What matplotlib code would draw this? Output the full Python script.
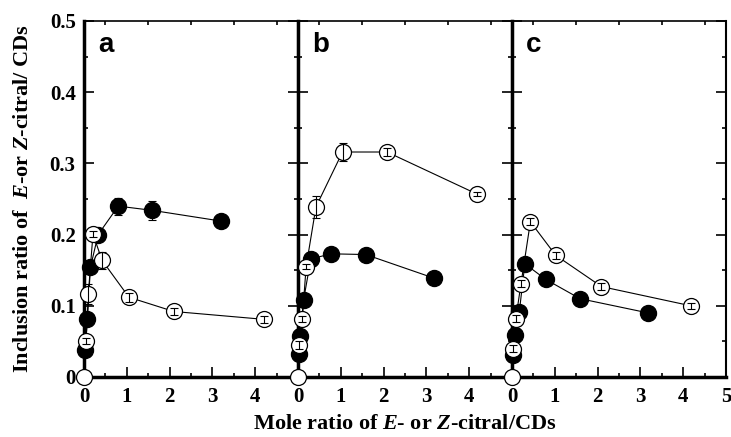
import matplotlib
matplotlib.use("Agg")
import matplotlib.pyplot as plt
from matplotlib.ticker import MultipleLocator

plt.rcParams['mathtext.fontset'] = 'custom'
plt.rcParams['mathtext.rm'] = 'Liberation Serif:bold'
plt.rcParams['mathtext.it'] = 'Liberation Serif:bold:italic'
plt.rcParams['mathtext.bf'] = 'Liberation Serif:bold'

# ---- data ----
panel_labels = ['a', 'b', 'c']

a_open_x = [0, 0.05, 0.1, 0.21, 0.42, 1.05, 2.1, 4.2]
a_open_y = [0, 0.051, 0.116, 0.201, 0.164, 0.112, 0.092, 0.081]
a_open_e = [0, 0.004, 0.014, 0.004, 0.012, 0.006, 0.005, 0.005]
a_fill_x = [0.025, 0.08, 0.15, 0.33, 0.8, 1.6, 3.2]
a_fill_y = [0.038, 0.081, 0.154, 0.200, 0.240, 0.234, 0.219]
a_fill_e = [0.003, 0.004, 0.004, 0.004, 0.012, 0.013, 0.003]

b_open_x = [0, 0.03, 0.1, 0.19, 0.42, 1.04, 2.08, 4.18]
b_open_y = [0, 0.045, 0.081, 0.155, 0.239, 0.316, 0.316, 0.257]
b_open_e = [0, 0.005, 0.004, 0.004, 0.015, 0.012, 0.005, 0.003]
b_fill_x = [0.02, 0.05, 0.13, 0.3, 0.78, 1.58, 3.17]
b_fill_y = [0.033, 0.057, 0.108, 0.166, 0.173, 0.172, 0.139]
b_fill_e = [0.003, 0.003, 0.003, 0.003, 0.003, 0.003, 0.003]

c_open_x = [0, 0.03, 0.09, 0.21, 0.43, 1.02, 2.09, 4.18]
c_open_y = [0, 0.040, 0.082, 0.131, 0.218, 0.171, 0.127, 0.100]
c_open_e = [0, 0.005, 0.005, 0.005, 0.005, 0.005, 0.005, 0.004]
c_fill_x = [0.02, 0.07, 0.17, 0.3, 0.79, 1.59, 3.18]
c_fill_y = [0.031, 0.059, 0.091, 0.159, 0.137, 0.110, 0.090]
c_fill_e = [0.003, 0.003, 0.003, 0.003, 0.003, 0.003, 0.003]

open_x = [a_open_x, b_open_x, c_open_x]
open_y = [a_open_y, b_open_y, c_open_y]
open_e = [a_open_e, b_open_e, c_open_e]
fill_x = [a_fill_x, b_fill_x, c_fill_x]
fill_y = [a_fill_y, b_fill_y, c_fill_y]
fill_e = [a_fill_e, b_fill_e, c_fill_e]

xticks = [0, 1, 2, 3, 4, 5]
yticks = [0, 0.1, 0.2, 0.3, 0.4, 0.5]
ytick_labels = ['0', '0.1', '0.2', '0.3', '0.4', '0.5']

# ---- figure ----
fig = plt.figure(figsize=(7.31, 4.37), dpi=100)
left, right, bottom, top = 84/731, 726/731, 1-377/437, 1-21/437
w = (right-left)/3
tickfont = dict(family='Liberation Serif', weight='bold', size=15)
ms = 11.5


def err(ax, xs, ys, es, z):
    pts = [(x, y, e) for x, y, e in zip(xs, ys, es) if e > 0]
    ax.errorbar([p[0] for p in pts], [p[1] for p in pts],
                yerr=[p[2] for p in pts], fmt='none', ecolor='black',
                elinewidth=0.8, capsize=3.2, capthick=0.8, clip_on=False,
                zorder=z)


for i in range(3):
    ax = fig.add_axes([left + i*w, bottom, w, top-bottom])
    ax.set_xlim(0, 5)
    ax.set_ylim(0, 0.5)
    # filled series
    ax.plot(fill_x[i], fill_y[i], '-o', color='black', mfc='black',
            mec='black', ms=ms, lw=0.8, clip_on=False, zorder=3)
    err(ax, fill_x[i], fill_y[i], fill_e[i], 2.5)
    # open series
    ax.plot(open_x[i], open_y[i], '-o', color='black', mfc='white',
            mec='black', ms=ms, mew=0.9, lw=0.8, clip_on=False, zorder=4)
    err(ax, open_x[i], open_y[i], open_e[i], 5)
    ax.text(0.065, 0.97, panel_labels[i], transform=ax.transAxes,
            fontsize=20, fontweight='bold', family='Liberation Sans',
            va='top', ha='left')
    ax.xaxis.set_major_locator(MultipleLocator(1))
    ax.xaxis.set_minor_locator(MultipleLocator(0.5))
    ax.yaxis.set_major_locator(MultipleLocator(0.1))
    ax.yaxis.set_minor_locator(MultipleLocator(0.05))
    ax.tick_params(which='both', direction='in', top=True, right=True,
                   width=1.2)
    ax.tick_params(axis='x', which='major', top=False, length=7)
    ax.tick_params(axis='x', which='minor', top=True, length=3)
    ax.tick_params(axis='y', which='both', right=True, length=3)
    ax.tick_params(axis='y', which='major', left=True, length=7)
    ax.spines['left'].set_linewidth(2.5)
    ax.spines['bottom'].set_linewidth(2.5)
    ax.spines['top'].set_linewidth(1.2)
    ax.spines['right'].set_linewidth(1.5)
    if i < 2:
        ax.set_xticks(xticks[:-1])
    else:
        ax.set_xticks(xticks)
    ax.set_xticklabels([str(t) for t in ax.get_xticks()], fontdict=tickfont)
    if i == 0:
        ax.set_yticks(yticks)
        ax.set_yticklabels(ytick_labels, fontdict=tickfont)
        ax.set_ylabel(r'Inclusion ratio of  $\mathit{E}$-or $\mathit{Z}$-citral/ CDs',
                      family='Liberation Serif', fontweight='bold', fontsize=16,
                      labelpad=12)
    else:
        ax.set_yticklabels([])
    ax.tick_params(axis='x', pad=7)
    ax.tick_params(axis='y', pad=6)
    if i == 1:
        ax.set_xlabel(r'Mole ratio of $\mathit{E}$- or $\mathit{Z}$-citral/CDs',
                      family='Liberation Serif', fontweight='bold', fontsize=16,
                      labelpad=5)

fig.savefig('out.png', dpi=100)
